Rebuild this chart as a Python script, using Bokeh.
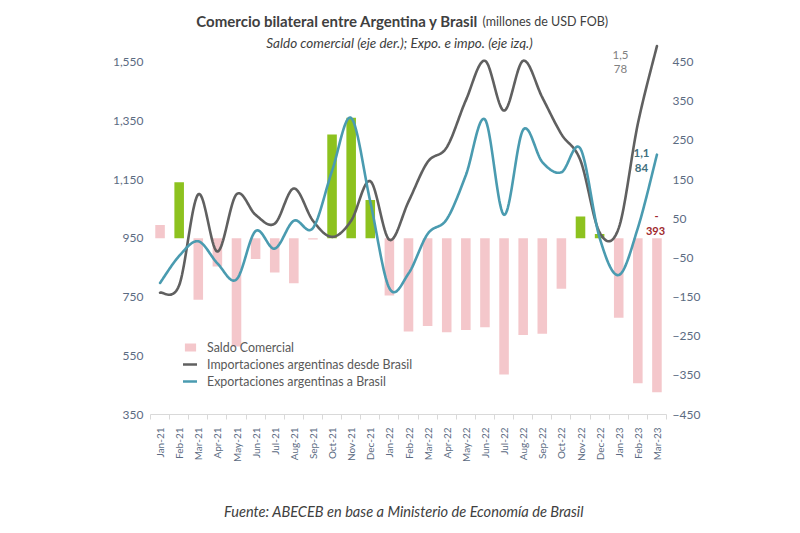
import numpy as np
from bokeh.plotting import figure
from bokeh.layouts import column
from bokeh.models import (Range1d, LinearAxis, FixedTicker, NumeralTickFormatter,
                          Label, Legend, LegendItem, ColumnDataSource)
from bokeh.embed import file_html
from bokeh.resources import INLINE

# ---------------- data ----------------
months = ["Jan-21", "Feb-21", "Mar-21", "Apr-21", "May-21", "Jun-21", "Jul-21",
          "Aug-21", "Sep-21", "Oct-21", "Nov-21", "Dec-21", "Jan-22", "Feb-22",
          "Mar-22", "Apr-22", "May-22", "Jun-22", "Jul-22", "Aug-22", "Sep-22",
          "Oct-22", "Nov-22", "Dec-22", "Jan-23", "Feb-23", "Mar-23"]

importaciones = [765, 790, 1100, 905, 1100, 1030, 1000, 1120, 1010, 955, 1010, 1145,
                 945, 1075, 1210, 1260, 1420, 1555, 1385, 1555, 1430, 1305, 1215,
                 970, 985, 1340, 1605]

exportaciones = [798, 890, 940, 865, 810, 975, 915, 1010, 985, 1180, 1360, 1075,
                 780, 830, 965, 1015, 1165, 1355, 1030, 1320, 1210, 1175, 1255,
                 952, 825, 985, 1235]

saldo = [34, 143, -157, -72, -276, -53, -87, -115, -3, 265, 308, 98,
         -146, -238, -224, -240, -234, -227, -348, -247, -244, -129, 56,
         11, -203, -370, -393]

left_ticks = [350, 550, 750, 950, 1150, 1350, 1550]
right_ticks = [-450, -350, -250, -150, -50, 50, 150, 250, 350, 450]

title_bold = "Comercio bilateral entre Argentina y Brasil"
title_normal = "(millones de USD FOB)"
subtitle = "Saldo comercial (eje der.); Expo. e impo. (eje izq.)"
footer = "Fuente: ABECEB en base a Ministerio de Economía de Brasil"
series_names = ["Saldo Comercial", "Importaciones argentinas desde Brasil",
                "Exportaciones argentinas a Brasil"]

# ---------------- style ----------------
PINK = "#F4C7CB"
GREEN = "#8DC21F"
GRAY = "#606060"
TEAL = "#4A9BB0"
TICK_COL = "#5B6B82"
TXT = "#404040"
FONT = "Lato"
bar_colors = [PINK, GREEN] + [PINK] * 7 + [GREEN] * 3 + [PINK] * 10 + [GREEN] * 2 + [PINK] * 3

W, H = 800, 477          # main chart
HF = 533 - H             # footer strip
FL, FR, FT, FB = 150, 134, 0, 63   # frame borders (px)

x_lo, x_hi = -0.5, 26.5
yl_lo, yl_hi = 350, 1760.2
yr_lo, yr_hi = -450, 607.6

p = figure(width=W, height=H, output_backend="svg", toolbar_location=None,
           x_range=Range1d(x_lo, x_hi), y_range=Range1d(yl_lo, yl_hi),
           min_border_left=FL, min_border_right=FR, min_border_top=FT,
           min_border_bottom=FB, background_fill_color="white",
           border_fill_color="white", outline_line_color=None)
p.title = None
p.extra_y_ranges = {"saldo": Range1d(yr_lo, yr_hi)}
p.xgrid.visible = False
p.ygrid.visible = False

frame_w = W - FL - FR
frame_h = H - FT - FB
def dx(px):
    return x_lo + (px - FL) / frame_w * (x_hi - x_lo)
def dy(py):
    return yl_lo + (H - FB - py) / frame_h * (yl_hi - yl_lo)

# ---------------- bars ----------------
idx = list(range(len(months)))
bar_src = ColumnDataSource(dict(x=idx, top=saldo, color=bar_colors))
bars = p.vbar(x="x", top="top", bottom=0, width=0.5, source=bar_src,
              fill_color="color", line_color=None, y_range_name="saldo")

# ---------------- smooth lines (Excel-like Bezier through the data points) ----------------
def smooth(values, n=20):
    pts = np.column_stack([np.arange(len(values), dtype=float), np.asarray(values, float)])
    P = np.vstack([pts[0], pts, pts[-1]])
    out = []
    for i in range(1, len(P) - 2):
        p0, p1, p2, p3 = P[i - 1], P[i], P[i + 1], P[i + 2]
        c1 = p1 + (p2 - p0) / 6.0
        c2 = p2 - (p3 - p1) / 6.0
        t = np.linspace(0, 1, n, endpoint=False)[:, None]
        seg = ((1 - t) ** 3) * p1 + 3 * ((1 - t) ** 2) * t * c1 + 3 * (1 - t) * t ** 2 * c2 + t ** 3 * p2
        out.append(seg)
    out.append(pts[-1][None, :])
    arr = np.vstack(out)
    return arr[:, 0], arr[:, 1]

ix, iy = smooth(importaciones)
ex, ey = smooth(exportaciones)
l_imp = p.line(ix, iy, line_color=GRAY, line_width=2.6, line_cap="round", line_join="round")
l_exp = p.line(ex, ey, line_color=TEAL, line_width=2.6, line_cap="round", line_join="round")

# ---------------- axes ----------------
xa = p.xaxis[0]
xa.ticker = FixedTicker(ticks=idx, minor_ticks=[i - 0.5 for i in range(len(months) + 1)])
xa.major_label_overrides = {i: m for i, m in enumerate(months)}
xa.major_label_orientation = np.pi / 2
xa.major_tick_line_color = None
xa.major_tick_out = 0
xa.major_tick_in = 0
xa.minor_tick_line_color = "#D9D9D9"
xa.minor_tick_out = 5
xa.minor_tick_in = 0
xa.axis_line_color = "#D9D9D9"
xa.major_label_standoff = 8
xa.major_label_text_font = FONT
xa.major_label_text_font_size = "10px"
xa.major_label_text_color = TICK_COL

ya = p.yaxis[0]
ya.ticker = FixedTicker(ticks=left_ticks)
ya.formatter = NumeralTickFormatter(format="0,0")
ya.axis_line_color = None
ya.major_tick_line_color = None
ya.minor_tick_line_color = None
ya.major_tick_out = 0
ya.major_label_standoff = 7
ya.major_label_text_font = FONT
ya.major_label_text_font_size = "12px"
ya.major_label_text_color = TICK_COL

ra = LinearAxis(y_range_name="saldo", ticker=FixedTicker(ticks=right_ticks))
ra.axis_line_color = None
ra.major_tick_line_color = None
ra.minor_tick_line_color = None
ra.major_tick_out = 0
ra.major_label_standoff = 6
ra.major_label_text_font = FONT
ra.major_label_text_font_size = "12px"
ra.major_label_text_color = TICK_COL
p.add_layout(ra, "right")

# ---------------- legend ----------------
legend = Legend(items=[LegendItem(label=series_names[0], renderers=[bars], index=0),
                       LegendItem(label=series_names[1], renderers=[l_imp]),
                       LegendItem(label=series_names[2], renderers=[l_exp])],
                location=(33, 25), padding=0, margin=0, spacing=1,
                label_height=16, glyph_height=10, glyph_width=14, label_standoff=10,
                label_text_font=FONT, label_text_font_size="12.4px",
                label_text_color="#595959", border_line_color=None,
                background_fill_alpha=0)
p.add_layout(legend, "center")

# ---------------- texts ----------------
def add_text(txt, px, py, size, color=TXT, align="center", style="normal"):
    p.add_layout(Label(x=dx(px), y=dy(py), text=txt, text_font=FONT,
                       text_font_size=size, text_color=color, text_align=align,
                       text_baseline="middle", text_font_style=style))

add_text(title_bold, 478, 20, "15px", align="right", style="bold")
add_text(title_normal, 482, 21, "12.5px", align="left")
add_text(subtitle, 399, 42, "13.5px", style="italic")

add_text("1,5", 620, 54, "11.5px", color="#808080")
add_text("78", 620, 68, "11.5px", color="#808080")
add_text("1,1", 641, 152, "11.5px", color="#3F6F7E", style="bold")
add_text("84", 641, 167, "11.5px", color="#3F6F7E", style="bold")
add_text("-", 656, 215, "11px", color="#A0282D", style="bold")
add_text(str(abs(saldo[-1])), 655, 230, "11px", color="#A0282D", style="bold")

# ---------------- footer strip ----------------
f = figure(width=W, height=HF, output_backend="svg", toolbar_location=None,
           x_range=Range1d(0, W), y_range=Range1d(0, HF),
           min_border=0, outline_line_color=None, background_fill_color="white",
           border_fill_color="white")
f.title = None
f.xaxis.visible = False
f.yaxis.visible = False
f.xgrid.visible = False
f.ygrid.visible = False
f.add_layout(Label(x=393, y=HF - (511 - H), text=footer, text_font=FONT,
                   text_font_size="14.6px", text_font_style="italic", text_color=TXT,
                   text_align="center", text_baseline="middle"))

layout = column(p, f, spacing=0)
open("out.html", "w").write(file_html(layout, INLINE))
